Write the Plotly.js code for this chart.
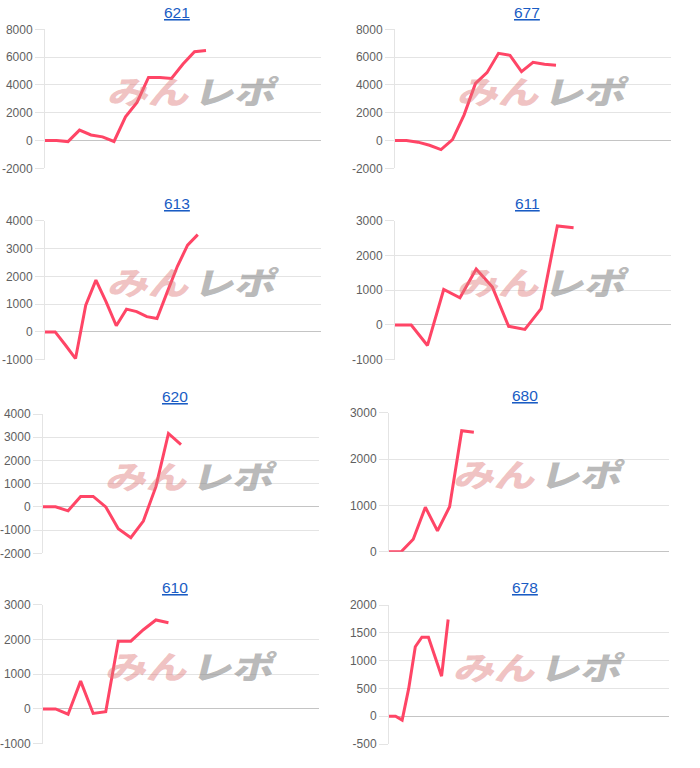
<!DOCTYPE html>
<html>
<head>
<meta charset="utf-8">
<script src="https://cdn.plot.ly/plotly-3.0.1.min.js"></script>
<style>
html,body{margin:0;padding:0;background:#fff;}
#chart{width:700px;height:768px;}
.wm{transform-box:fill-box;transform-origin:center;transform:skewX(-14deg) scaleX(1.28);}
</style>
</head>
<body>
<div id="chart"></div>
<script>
// ---- data ----
const titles = ['621', '677', '613', '611', '620', '680', '610', '678'];
const s621 = [0, 0, -80, 750, 400, 260, -70, 1700, 2740, 4540, 4540, 4470, 5500, 6390, 6470];
const s677 = [0, 0, -120, -340, -650, 70, 1830, 4110, 4880, 6270, 6130, 4950, 5620, 5480, 5410];
const s613 = [0, 0, -470, -960, 960, 1860, 1080, 220, 820, 730, 550, 480, 1430, 2360, 3120, 3500];
const s611 = [0, 0, -590, 1020, 780, 1610, 1090, -40, -130, 470, 2850, 2800];
const s620 = [0, 0, -170, 450, 450, 0, -940, -1330, -610, 870, 3160, 2680];
const s680 = [0, 0, 270, 960, 450, 970, 2610, 2580];
const s610 = [0, 0, -150, 800, -130, -80, 1950, 1950, 2280, 2560, 2480];
const s678 = [0, 0, -70, 500, 1250, 1420, 1420, 1070, 720, 1740];
const series = [s621, s677, s613, s611, s620, s680, s610, s678];
// axis extents per chart
const xMax = [24, 24, 27.1, 17, 22, 23.1, 22, 42.6];
const yRanges = [[-2000, 8000], [-2000, 8000], [-1000, 4000], [-1000, 3000], [-2000, 4000], [0, 3000], [-1000, 3000], [-500, 2000]];
const yTicks = [2000, 2000, 1000, 1000, 1000, 1000, 1000, 500];
const watermarkLeft = 'みん';
const watermarkRight = 'レポ';

// ---- layout geometry (pixels) ----
const W = 700, H = 768;
const boxes = [
  {l: 45, r: 321, t: 29.3, b: 168.3, tx: 177, ty: 12},
  {l: 395, r: 671, t: 29.3, b: 168.3, tx: 527, ty: 12},
  {l: 45, r: 321, t: 220.7, b: 359.7, tx: 177, ty: 203.5},
  {l: 395, r: 671, t: 220.7, b: 359.7, tx: 527, ty: 203.5},
  {l: 43, r: 319, t: 414, b: 553.3, tx: 175, ty: 396},
  {l: 389, r: 669, t: 412.7, b: 551.7, tx: 525, ty: 395},
  {l: 43, r: 319, t: 604.7, b: 743.7, tx: 175, ty: 587},
  {l: 389, r: 669, t: 605, b: 744, tx: 525, ty: 587}
];

const traces = [];
const layout = {
  width: W, height: H,
  margin: {l: 0, r: 0, t: 0, b: 0},
  paper_bgcolor: '#fff', plot_bgcolor: 'rgba(0,0,0,0)',
  showlegend: false,
  font: {family: 'Liberation Sans, Arial, sans-serif', color: '#5f5f5f', size: 12},
  annotations: []
};

series.forEach((vals, i) => {
  const n = i + 1;
  const xa = 'x' + (n === 1 ? '' : n), ya = 'y' + (n === 1 ? '' : n);
  const bx = boxes[i];
  const tv = [];
  for (let v = yRanges[i][0]; v <= yRanges[i][1]; v += yTicks[i]) tv.push(v);
  traces.push({
    type: 'scatter', mode: 'lines',
    x: vals.map((v, k) => k), y: vals,
    xaxis: xa, yaxis: ya,
    line: {color: '#ff4566', width: 3},
    hoverinfo: 'skip'
  });
  layout['xaxis' + (n === 1 ? '' : n)] = {
    domain: [bx.l / W, bx.r / W], anchor: ya,
    range: [0, xMax[i]], showgrid: false, zeroline: false,
    showticklabels: false, showline: false, fixedrange: true
  };
  layout['yaxis' + (n === 1 ? '' : n)] = {
    domain: [1 - bx.b / H, 1 - bx.t / H], anchor: xa,
    range: yRanges[i], tickmode: 'array', tickvals: tv, ticktext: tv.map(String),
    showgrid: true, gridcolor: '#e4e4e4', gridwidth: 1,
    zeroline: true, zerolinecolor: '#c4c4c4', zerolinewidth: 1,
    showline: true, linecolor: '#e4e4e4', linewidth: 1,
    ticks: 'outside', ticklen: 9, tickcolor: '#e4e4e4',
    tickfont: {family: 'Liberation Sans, Arial, sans-serif', size: 12, color: '#5f5f5f'},
    fixedrange: true
  };
  // title
  layout.annotations.push({
    xref: 'paper', yref: 'paper', x: bx.tx / W, y: 1 - bx.ty / H,
    xanchor: 'center', yanchor: 'middle', showarrow: false,
    text: titles[i],
    font: {family: 'Liberation Sans, Arial, sans-serif', size: 15.5, color: '#1a5cc4', lineposition: 'under'}
  });
  // watermark
  const cx = (bx.l + bx.r) / 2 + 11, cy = (bx.t + bx.b) / 2 - 9;
  layout.annotations.push({
    xref: 'paper', yref: 'paper', x: (cx - 43) / W, y: 1 - cy / H,
    xanchor: 'center', yanchor: 'middle', showarrow: false,
    text: watermarkLeft,
    font: {family: 'Noto Sans CJK JP', size: 32, weight: 900, color: 'rgba(222,120,120,0.45)'}
  });
  layout.annotations.push({
    xref: 'paper', yref: 'paper', x: (cx + 43) / W, y: 1 - cy / H,
    xanchor: 'center', yanchor: 'middle', showarrow: false,
    text: watermarkRight,
    font: {family: 'Noto Sans CJK JP', size: 32, weight: 900, color: 'rgba(140,140,140,0.6)'}
  });
});

Plotly.newPlot('chart', traces, layout, {staticPlot: true, displayModeBar: false}).then(() => {
  document.querySelectorAll('.annotation-text').forEach(t => {
    if (t.textContent === watermarkLeft || t.textContent === watermarkRight) t.classList.add('wm');
  });
});
</script>
</body>
</html>
